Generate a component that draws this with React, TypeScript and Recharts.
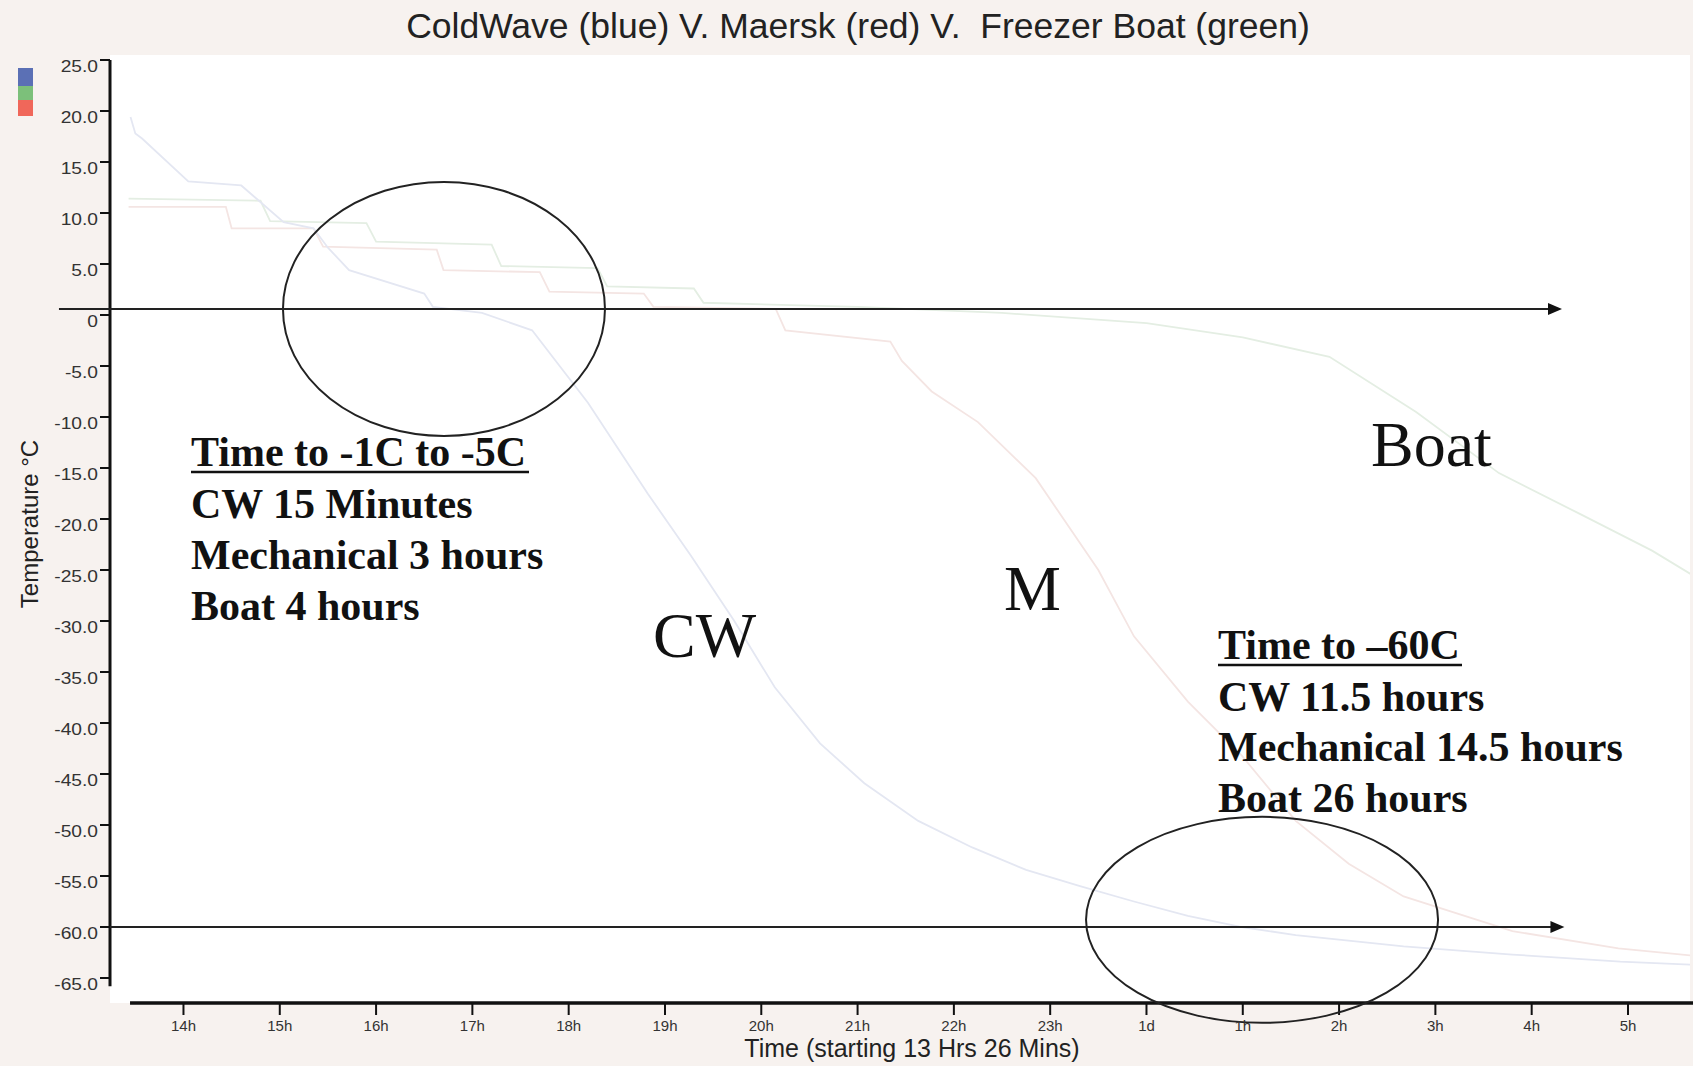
import React from 'react';
import { LineChart, Line, XAxis, YAxis, ReferenceLine, ReferenceDot, CartesianGrid } from 'recharts';

// ---- data (x = clock hours, 24 = "1d"; y = temperature °C) ----
const hourTicks = [14, 15, 16, 17, 18, 19, 20, 21, 22, 23, 24, 25, 26, 27, 28, 29];
const hourLabels = ['14h', '15h', '16h', '17h', '18h', '19h', '20h', '21h', '22h', '23h', '1d', '1h', '2h', '3h', '4h', '5h'];
const tempTicks = [25, 20, 15, 10, 5, 0, -5, -10, -15, -20, -25, -30, -35, -40, -45, -50, -55, -60, -65];
const tempLabels = ['25.0', '20.0', '15.0', '10.0', '5.0', '0', '-5.0', '-10.0', '-15.0', '-20.0', '-25.0', '-30.0', '-35.0', '-40.0', '-45.0', '-50.0', '-55.0', '-60.0', '-65.0'];

const cwHours = [13.45, 13.5, 13.57, 14.05, 14.6, 15.04, 15.35, 15.5, 15.72, 16.5, 16.59, 17.1, 17.62, 18.2, 18.82, 19.27, 19.72, 20.14, 20.61, 21.07, 21.63, 22.19, 22.75, 23.31, 23.87, 24.43, 24.99, 25.55, 26.67, 27.8, 28.92, 29.67];
const cwTemps = [19.4, 17.8, 17.3, 13.1, 12.7, 9.1, 8.5, 6.6, 4.4, 2.1, 0.8, 0.2, -1.5, -8.6, -17.5, -23.6, -30.0, -36.5, -42.0, -45.9, -49.6, -52.2, -54.4, -56.0, -57.5, -58.9, -60.0, -60.8, -61.9, -62.7, -63.4, -63.7];

const mHours = [13.43, 14.44, 14.5, 15.35, 15.45, 16.63, 16.7, 17.7, 17.8, 18.78, 18.88, 20.15, 20.25, 21.34, 21.46, 21.77, 22.25, 22.85, 23.5, 23.87, 24.43, 24.99, 25.55, 26.1, 26.67, 27.8, 28.9, 29.67];
const mTemps = [10.6, 10.6, 8.5, 8.5, 6.7, 6.4, 4.4, 4.2, 2.3, 2.1, 0.8, 0.6, -1.5, -2.6, -4.5, -7.5, -10.5, -16.0, -25.0, -31.5, -37.9, -43.2, -49.6, -53.8, -57.0, -60.4, -62.1, -62.8];

const boatHours = [13.43, 14.8, 14.9, 15.9, 16.0, 17.2, 17.3, 18.3, 18.4, 19.3, 19.4, 21.0, 22.5, 24.0, 25.0, 25.9, 26.8, 27.66, 28.5, 29.25, 29.67];
const boatTemps = [11.4, 11.2, 9.2, 9.0, 7.2, 6.9, 4.8, 4.6, 2.8, 2.6, 1.2, 0.8, 0.2, -0.8, -2.2, -4.1, -9.5, -15.5, -19.5, -23.1, -25.5];

const toRows = (hs: number[], ts: number[]) => hs.map((t, i) => ({ t, v: ts[i] }));
const cwData = toRows(cwHours, cwTemps);
const mData = toRows(mHours, mTemps);
const boatData = toRows(boatHours, boatTemps);

const X_DOMAIN: [number, number] = [13.237, 29.644];
const Y_DOMAIN: [number, number] = [-67.45, 25.49];

const XTick = (props: any) => {
  const { x, payload } = props;
  const i = hourTicks.indexOf(payload.value);
  return (
    <text x={x} y={1031} textAnchor="middle" fontSize={15} fill="#333" fontFamily="Liberation Sans, Arial, sans-serif">
      {hourLabels[i]}
    </text>
  );
};

const YTick = (props: any) => {
  const { y, payload } = props;
  const i = tempTicks.indexOf(payload.value);
  return (
    <text transform={`translate(98,${y + 12}) scale(1.2,1)`} textAnchor="end" fontSize={16} fill="#333" fontFamily="Liberation Sans, Arial, sans-serif">
      {tempLabels[i]}
    </text>
  );
};

const Arrow = (props: any) => {
  const { x1, y1, x2, y2 } = props;
  return (
    <g>
      <line x1={x1} y1={y1} x2={x2 - 10} y2={y2} stroke="#222" strokeWidth={2} />
      <polygon points={`${x2},${y2} ${x2 - 14},${y2 - 6} ${x2 - 14},${y2 + 6}`} fill="#111" />
    </g>
  );
};

const makeEllipse = (rx: number, ry: number) => (p: any) => (
  <ellipse cx={p.cx} cy={p.cy} rx={rx} ry={ry} fill="none" stroke="#222" strokeWidth={2} />
);

const serif = 'Liberation Serif, Times New Roman, serif';

export default function App() {
  return (
    <div style={{ position: 'absolute', left: 0, top: 0, width: 1693, height: 1066, background: '#f7f2ef', fontFamily: 'Liberation Sans, Arial, sans-serif' }}>
      <LineChart width={1693} height={1066} data={cwData} margin={{ top: 55, right: 3, bottom: 0, left: 0 }}>
        <CartesianGrid fill="#ffffff" stroke="none" horizontal={false} vertical={false} />
        <XAxis
          type="number"
          dataKey="t"
          domain={X_DOMAIN}
          allowDataOverflow
          ticks={hourTicks}
          height={63}
          axisLine={false}
          tickLine={{ stroke: '#111', strokeWidth: 2 }}
          tickSize={12}
          tick={<XTick />}
          interval={0}
        />
        <YAxis
          type="number"
          dataKey="v"
          domain={Y_DOMAIN}
          allowDataOverflow
          ticks={tempTicks}
          width={110}
          axisLine={false}
          tickLine={{ stroke: '#111', strokeWidth: 2 }}
          tickSize={10}
          tick={<YTick />}
          interval={0}
        />
        <Line data={boatData} dataKey="v" type="linear" stroke="#e4eee3" strokeWidth={1.8} dot={false} isAnimationActive={false} />
        <Line data={mData} dataKey="v" type="linear" stroke="#f4e5e3" strokeWidth={1.8} dot={false} isAnimationActive={false} />
        <Line data={cwData} dataKey="v" type="linear" stroke="#e4e7f2" strokeWidth={1.8} dot={false} isAnimationActive={false} />

        {/* axis lines */}
        <ReferenceLine segment={[{ x: 13.237, y: -65.8 }, { x: 13.237, y: 25 }]} stroke="#111" strokeWidth={3} ifOverflow="visible" />
        <ReferenceLine segment={[{ x: 13.445, y: -67.45 }, { x: 29.68, y: -67.45 }]} stroke="#111" strokeWidth={3.5} ifOverflow="visible" />

        {/* annotation arrows */}
        <ReferenceLine segment={[{ x: 12.707, y: 0.6 }, { x: 28.315, y: 0.6 }]} ifOverflow="visible" shape={<Arrow />} />
        <ReferenceLine segment={[{ x: 13.164, y: -60 }, { x: 28.34, y: -60 }]} ifOverflow="visible" shape={<Arrow />} />

        {/* annotation ellipses */}
        <ReferenceDot x={16.705} y={0.6} r={1} ifOverflow="visible" shape={makeEllipse(161, 127)} />
        <ReferenceDot x={25.2} y={-59.3} r={1} ifOverflow="visible" shape={makeEllipse(176, 103)} />
      </LineChart>

      <svg width={1693} height={1066} style={{ position: 'absolute', left: 0, top: 0, pointerEvents: 'none' }}>
        {/* legend swatches */}
        <rect x={18} y={68} width={15} height={18} fill="#5b70b5" />
        <rect x={18} y={86} width={15} height={14} fill="#7cc07a" />
        <rect x={18} y={100} width={15} height={16} fill="#f0675a" />

        <text x={858} y={38} textAnchor="middle" fontSize={35.5} fill="#222" style={{ whiteSpace: 'pre' }}>
          ColdWave (blue) V. Maersk (red) V.  Freezer Boat (green)
        </text>
        <text x={912} y={1057} textAnchor="middle" fontSize={25} fill="#222">Time (starting 13 Hrs 26 Mins)</text>
        <text transform="translate(38,524) rotate(-90)" textAnchor="middle" fontSize={24} fill="#222">Temperature °C</text>

        <g fontFamily={serif} fontWeight="bold" fontSize={42} fill="#111">
          <text x={191} y={466}>Time to -1C to -5C</text>
          <line x1={191} y1={472} x2={529} y2={472} stroke="#111" strokeWidth={2.5} />
          <text x={191} y={518}>CW 15 Minutes</text>
          <text x={191} y={569}>Mechanical 3 hours</text>
          <text x={191} y={620}>Boat 4 hours</text>

          <text x={1218} y={659}>Time to –60C</text>
          <line x1={1218} y1={665} x2={1462} y2={665} stroke="#111" strokeWidth={2.5} />
          <text x={1218} y={711}>CW 11.5 hours</text>
          <text x={1218} y={761}>Mechanical 14.5 hours</text>
          <text x={1218} y={812}>Boat 26 hours</text>
        </g>

        <g fontFamily={serif} fontSize={64} fill="#111">
          <text x={653} y={657}>CW</text>
          <text x={1004} y={610}>M</text>
          <text x={1371} y={466}>Boat</text>
        </g>
      </svg>
    </div>
  );
}
